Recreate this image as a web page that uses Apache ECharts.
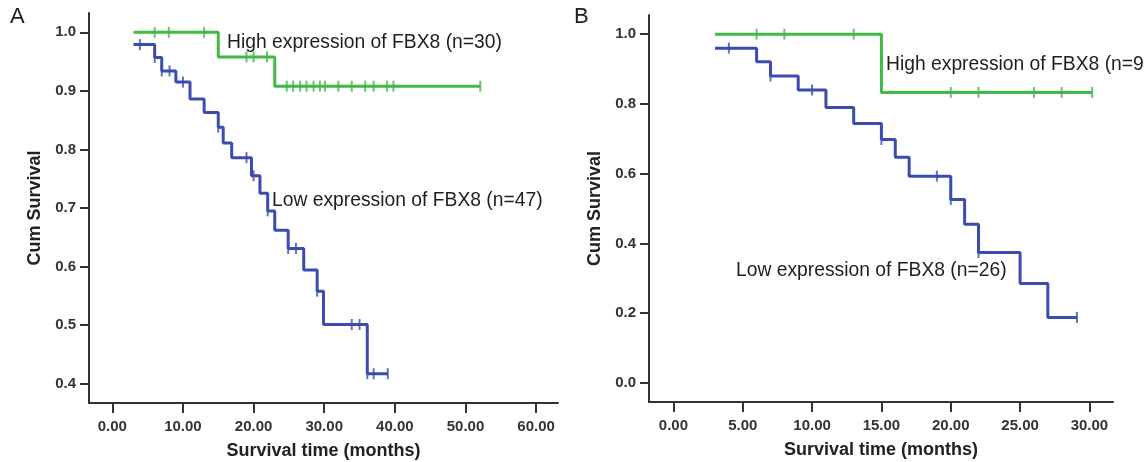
<!DOCTYPE html>
<html><head><meta charset="utf-8">
<script src="https://cdn.jsdelivr.net/npm/echarts@6/dist/echarts.min.js"></script>
<style>html,body{margin:0;padding:0;background:#fff}#c{width:1144px;height:462px}</style>
</head><body><div id="c"></div>
<script>
// Panel A
const aLowTimes = [3, 6, 7, 9, 11, 13, 15, 15.7, 16.9, 19.7, 20.9, 22, 23, 24.9, 27.1, 29, 29.9, 36.1, 39];
const aLowSurv  = [0.979, 0.957, 0.934, 0.915, 0.886, 0.863, 0.838, 0.811, 0.786, 0.755, 0.725, 0.695, 0.662, 0.631, 0.594, 0.558, 0.501, 0.417, 0.417];
const aLowCens  = [3.9, 6, 7, 8.1, 10, 15, 19, 20, 22, 24.9, 26, 29, 33.9, 35, 36.1, 37, 39];
const aHighTimes = [3, 15, 23, 52.1];
const aHighSurv  = [1.0, 0.958, 0.908, 0.908];
const aHighCens  = [6, 8, 13, 19, 20, 21.9, 24.7, 25.6, 26.6, 27.5, 28.5, 29.4, 30.1, 32, 33.9, 35.8, 37, 38.9, 39.8, 52.1];
const aXTicks = [0, 10, 20, 30, 40, 50, 60];
const aYTicks = [0.4, 0.5, 0.6, 0.7, 0.8, 0.9, 1.0];
// Panel B
const bLowTimes = [3, 6, 7, 9, 11, 13, 15, 16, 17, 20, 21, 22, 25, 27, 29.1];
const bLowSurv  = [0.96, 0.921, 0.88, 0.84, 0.79, 0.744, 0.698, 0.647, 0.593, 0.526, 0.455, 0.374, 0.285, 0.188, 0.188];
const bLowCens  = [4, 7, 10, 15, 19, 20, 22, 29.1];
const bHighTimes = [3, 15, 30.2];
const bHighSurv  = [1.0, 0.833, 0.833];
const bHighCens  = [6, 8, 13, 20, 22, 26, 28, 30.2];
const bXTicks = [0, 5, 10, 15, 20, 25, 30];
const bYTicks = [0.0, 0.2, 0.4, 0.6, 0.8, 1.0];

const GREEN = '#42b846', BLUE = '#3a4caf', AX = '#333';
const FONT = '"Liberation Sans", Arial, sans-serif';

function pairs(t, s) { return t.map((x, i) => [x, s[i]]); }
function survAt(t, s, x) { let v = s[0]; for (let i = 0; i < t.length; i++) if (t[i] <= x + 1e-9) v = s[i]; return v; }
function cens(t, s, c) { return c.map(x => [x, survAt(t, s, x)]); }

function xAx(idx, min, max, ticks) {
  return {
    gridIndex: idx, type: 'value', min, max,
    name: 'Survival time (months)', nameLocation: 'middle', nameGap: 39,
    nameTextStyle: { fontFamily: FONT, fontWeight: 'bold', fontSize: 18, color: '#222' },
    axisLine: { show: true, onZero: false, lineStyle: { color: AX, width: 2 } },
    axisTick: { show: true, customValues: ticks, length: 10, lineStyle: { color: AX, width: 2 } },
    axisLabel: { customValues: ticks, formatter: v => v.toFixed(2), margin: 16, fontFamily: FONT, fontWeight: 'bold', fontSize: 15, color: '#333' },
    splitLine: { show: false }
  };
}
function yAx(idx, min, max, ticks) {
  return {
    gridIndex: idx, type: 'value', min, max,
    name: 'Cum Survival', nameLocation: 'middle', nameGap: 45,
    nameTextStyle: { fontFamily: FONT, fontWeight: 'bold', fontSize: 18, color: '#222' },
    axisLine: { show: true, onZero: false, lineStyle: { color: AX, width: 2 } },
    axisTick: { show: true, customValues: ticks, length: 9, lineStyle: { color: AX, width: 2 } },
    axisLabel: { customValues: ticks, formatter: v => v.toFixed(1), margin: 13, fontFamily: FONT, fontWeight: 'bold', fontSize: 15, color: '#333' },
    splitLine: { show: false }
  };
}
function stepS(idx, t, s, color) {
  return { type: 'line', xAxisIndex: idx, yAxisIndex: idx, step: 'end', data: pairs(t, s), symbol: 'none',
    lineStyle: { color, width: 3 }, animation: false, z: 2 };
}
function censS(idx, t, s, c, color) {
  return { type: 'scatter', xAxisIndex: idx, yAxisIndex: idx, data: cens(t, s, c), symbol: 'rect', symbolSize: [2, 11],
    itemStyle: { color }, animation: false, z: 3 };
}
const txt = (x, y, s, size, weight) => ({ type: 'text', left: x, top: y, style: { text: s, fontFamily: FONT, fontSize: size, fontWeight: weight || 'normal', fill: '#1e1e1e' } });

const chart = echarts.init(document.getElementById('c'));
chart.setOption({
  backgroundColor: '#fff',
  grid: [
    { left: 89, top: 13, width: 469, height: 390, outerBoundsMode: 'none', containLabel: false },
    { left: 649, top: 15, width: 464, height: 387, outerBoundsMode: 'none', containLabel: false }
  ],
  xAxis: [xAx(0, -3.3, 63.1, aXTicks), xAx(1, -1.76, 31.7, bXTicks)],
  yAxis: [yAx(0, 0.367, 1.033, aYTicks), yAx(1, -0.0545, 1.055, bYTicks)],
  series: [
    stepS(0, aHighTimes, aHighSurv, GREEN), censS(0, aHighTimes, aHighSurv, aHighCens, GREEN),
    stepS(0, aLowTimes, aLowSurv, BLUE), censS(0, aLowTimes, aLowSurv, aLowCens, BLUE),
    stepS(1, bHighTimes, bHighSurv, GREEN), censS(1, bHighTimes, bHighSurv, bHighCens, GREEN),
    stepS(1, bLowTimes, bLowSurv, BLUE), censS(1, bLowTimes, bLowSurv, bLowCens, BLUE)
  ],
  graphic: [
    txt(10, 6, 'A', 22), txt(574, 6, 'B', 22),
    txt(227, 33, 'High expression of FBX8 (n=30)', 19.3),
    txt(272, 191, 'Low expression of FBX8 (n=47)', 19.3),
    txt(886, 55, 'High expression of FBX8 (n=9', 19.3),
    txt(736, 261, 'Low expression of FBX8 (n=26)', 19.3)
  ]
});
</script>
</body></html>
